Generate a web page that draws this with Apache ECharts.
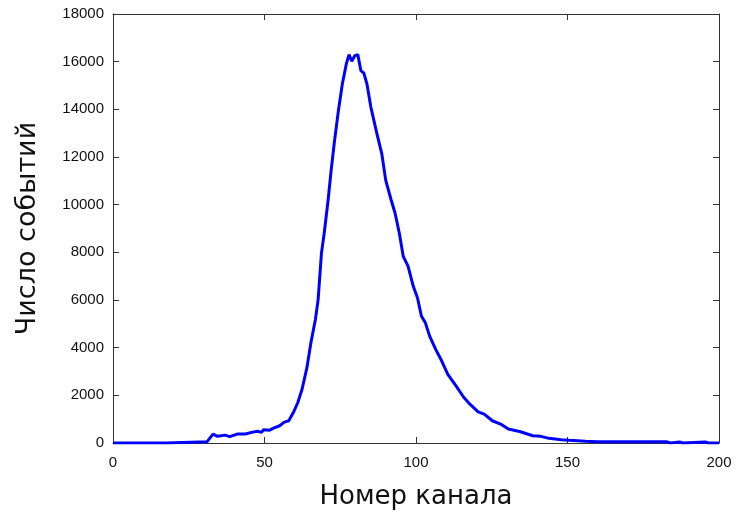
<!DOCTYPE html>
<html>
<head>
<meta charset="utf-8">
<script src="https://cdn.jsdelivr.net/npm/echarts@6/dist/echarts.min.js"></script>
<style>
  html, body { margin: 0; padding: 0; background: #fff; }
  #main { width: 736px; height: 517px; }
</style>
</head>
<body>
<div id="main"></div>
<script>
  // channel numbers and event counts
  const channels = [0, 17.6, 18, 31, 33, 34.5, 37, 38.5, 41, 43.7, 45.7, 47.7, 49, 49.7, 51.7, 53, 55, 56.4, 58,
    59.7, 61, 62.4, 64, 65.3, 66.8, 67.7, 68.8, 69.7, 71, 72, 73, 74.4, 75.7, 77, 77.9, 78.8, 79.8, 80.8,
    81.8, 82.8, 83.8, 85.1, 87.1, 88.7, 90, 91.8, 93.1, 94.5, 95.8, 97.4, 99.1, 100.5, 101.8, 103.1, 104.5,
    106.5, 108.5, 110.5, 113.2, 115.8, 117.8, 120.5, 122.5, 125.2, 127.9, 130.5, 134.5, 138.5, 141.2,
    143.9, 147.9, 150.6, 155.9, 160, 182.6, 184, 187, 188, 195.5, 196.5, 200];
  const counts = [0, 0, 50, 50, 375, 280, 330, 265, 375, 375, 445, 490, 445, 557, 540, 627, 724, 864, 933,
    1323, 1700, 2256, 3160, 4200, 5180, 6017, 7966, 8802, 10195, 11448, 12562, 13955, 15070, 15905, 16295,
    16017, 16250, 16295, 15626, 15515, 15070, 14095, 12980, 12145, 11030, 10195, 9638, 8802, 7827, 7410,
    6574, 6086, 5320, 5042, 4485, 3928, 3440, 2883, 2396, 1908, 1630, 1309, 1212, 933, 794, 585, 474, 306,
    279, 195, 139, 111, 70, 56, 50, 0, 40, 0, 40, 0, 0];
  const xTicks = [0, 200, 50];
  const yTicks = [0, 18000, 2000];

  const chart = echarts.init(document.getElementById('main'));
  const font = '"Liberation Sans", Arial, sans-serif';
  const titleFont = '"DejaVu Sans", sans-serif';
  const axisLine = { show: true, onZero: false, lineStyle: { color: '#333', width: 1 } };
  const tick = { show: true, inside: true, length: 6, lineStyle: { color: '#333' } };
  const labelStyle = { color: '#111', fontSize: 15, fontFamily: font, formatter: v => String(v) };

  const option = {
    animation: false,
    grid: { left: 113, right: 17, top: 14, bottom: 74, containLabel: false, outerBoundsMode: 'none' },
    xAxis: [{
      type: 'value', min: xTicks[0], max: xTicks[1], interval: xTicks[2],
      position: 'bottom',
      name: 'Номер канала', nameLocation: 'middle', nameGap: 41,
      nameTextStyle: { fontSize: 26, fontFamily: titleFont, color: '#111' },
      axisLine: axisLine, axisTick: tick, axisLabel: Object.assign({ margin: 12 }, labelStyle),
      splitLine: { show: false }
    }, {
      type: 'value', min: xTicks[0], max: xTicks[1], interval: xTicks[2],
      position: 'top',
      axisLine: axisLine, axisTick: tick, axisLabel: { show: false }, splitLine: { show: false }
    }],
    yAxis: [{
      type: 'value', min: yTicks[0], max: yTicks[1], interval: yTicks[2],
      position: 'left',
      name: 'Число событий', nameLocation: 'middle', nameGap: 72,
      nameTextStyle: { fontSize: 27, fontFamily: titleFont, color: '#111' },
      axisLine: axisLine, axisTick: tick, axisLabel: Object.assign({ margin: 9 }, labelStyle),
      splitLine: { show: false }
    }, {
      type: 'value', min: yTicks[0], max: yTicks[1], interval: yTicks[2],
      position: 'right',
      axisLine: axisLine, axisTick: tick, axisLabel: { show: false }, splitLine: { show: false }
    }],
    series: [{
      type: 'line',
      data: channels.map((c, i) => [c, counts[i]]),
      showSymbol: false,
      lineStyle: { color: '#0000ff', width: 3 },
      itemStyle: { color: '#0000ff' }
    }]
  };

  chart.setOption(option);
</script>
</body>
</html>
